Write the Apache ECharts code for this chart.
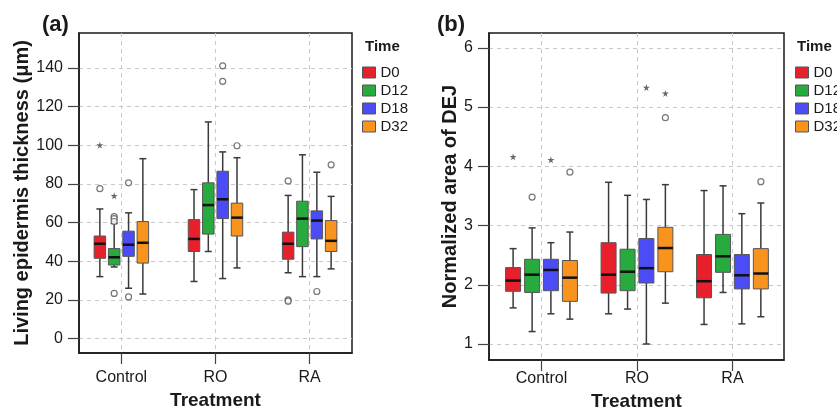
<!DOCTYPE html>
<html>
<head>
<meta charset="utf-8">
<script src="https://cdn.jsdelivr.net/npm/echarts@6/dist/echarts.min.js"></script>
<style>
  html, body { margin: 0; padding: 0; background: #fff; }
  #chart { width: 837px; height: 409px; }
</style>
</head>
<body>
<div id="chart"></div>
<script>
// Boxplots of skin measurements by treatment and time point
var treatments = ['Control', 'RO', 'RA'];
var times = ['D0', 'D12', 'D18', 'D32'];

// (a) living epidermis thickness: [min, q1, median, q3, max] for Control, RO, RA
var thickD0 = [[32, 41.5, 49, 53, 67], [29.5, 45, 51.5, 61.5, 77], [34, 41, 49, 55, 74]];
var thickD12 = [[37, 38, 42, 46.5, 59.5], [45, 54, 69, 80.5, 112], [32, 47.5, 62, 71, 95]];
var thickD18 = [[26, 42.5, 48.5, 55.5, 65], [31, 62, 72, 86.5, 96.5], [32, 51.5, 61, 66, 86]];
var thickD32 = [[23, 39, 49.5, 60.5, 93], [36.5, 53, 62.5, 70, 93.5], [36, 45, 50.5, 61, 73.5]];
// outliers [treatment index, value]; circles and extreme (star) points
var thickCircD0 = [[0, 77.5], [2, 81.5], [2, 20], [2, 19.3]];
var thickCircD12 = [[0, 63], [0, 62], [0, 60.5], [0, 23.3]];
var thickCircD18 = [[0, 80.5], [0, 21.5], [1, 141], [1, 133], [2, 24.3]];
var thickCircD32 = [[1, 99.7], [2, 89.8]];
var thickStarD0 = [[0, 100]];
var thickStarD12 = [[0, 73.8]];
var thickStarD18 = [];
var thickStarD32 = [];

// (b) normalized area of DEJ
var dejD0 = [[1.61, 1.89, 2.07, 2.29, 2.61], [1.51, 1.86, 2.17, 2.71, 3.73], [1.33, 1.78, 2.06, 2.51, 3.59]];
var dejD12 = [[1.21, 1.87, 2.17, 2.43, 2.96], [1.59, 1.9, 2.22, 2.6, 3.51], [1.87, 2.21, 2.48, 2.85, 3.67]];
var dejD18 = [[1.51, 1.9, 2.25, 2.43, 2.71], [1.0, 2.03, 2.28, 2.78, 3.44], [1.34, 1.93, 2.16, 2.51, 3.2]];
var dejD32 = [[1.42, 1.72, 2.12, 2.41, 2.89], [1.69, 2.22, 2.62, 2.97, 3.69], [1.46, 1.93, 2.19, 2.61, 3.38]];
var dejCircD0 = [];
var dejCircD12 = [[0, 3.48]];
var dejCircD18 = [];
var dejCircD32 = [[0, 3.9], [1, 4.82], [2, 3.74]];
var dejStarD0 = [[0, 4.16]];
var dejStarD12 = [];
var dejStarD18 = [[0, 4.11], [1, 5.33]];
var dejStarD32 = [[1, 5.23]];

var thickTicks = [0, 20, 40, 60, 80, 100, 120, 140];
var dejTicks = [1, 2, 3, 4, 5, 6];

var palette = ['#e8202c', '#27ab3e', '#4c4cf6', '#f8941d'];
var ink = '#1a1a1a';
var gridCol = '#c8c8c8';
var font = '"Liberation Sans", Arial, sans-serif';
var starPath = 'path://M50,0 L61,35 L98,35 L68,57 L79,91 L50,70 L21,91 L32,57 L2,35 L39,35 Z';

function boxRender(offset, boxW, capW) {
  return function(params, api) {
    var x = api.value(0);
    var pMin = api.coord([x, api.value(1)]);
    var pQ1 = api.coord([x, api.value(2)]);
    var pMed = api.coord([x, api.value(3)]);
    var pQ3 = api.coord([x, api.value(4)]);
    var pMax = api.coord([x, api.value(5)]);
    var cx = pMin[0] + offset;
    var hb = boxW / 2, hc = capW / 2;
    var wStyle = { stroke: '#3a3a3a', lineWidth: 1.5 };
    return {
      type: 'group',
      children: [
        { type: 'line', shape: { x1: cx, y1: pMax[1], x2: cx, y2: pQ3[1] }, style: wStyle },
        { type: 'line', shape: { x1: cx, y1: pQ1[1], x2: cx, y2: pMin[1] }, style: wStyle },
        { type: 'line', shape: { x1: cx - hc, y1: pMax[1], x2: cx + hc, y2: pMax[1] }, style: wStyle },
        { type: 'line', shape: { x1: cx - hc, y1: pMin[1], x2: cx + hc, y2: pMin[1] }, style: wStyle },
        { type: 'rect', shape: { x: cx - hb, y: pQ3[1], width: boxW, height: pQ1[1] - pQ3[1] },
          style: { fill: api.visual('color'), stroke: '#555', lineWidth: 1 } },
        { type: 'line', shape: { x1: cx - hb, y1: pMed[1], x2: cx + hb, y2: pMed[1] },
          style: { stroke: '#111', lineWidth: 2.5 } }
      ]
    };
  };
}

function addPanel(series, idx, boxes, circs, stars, offsets, boxW) {
  times.forEach(function(t, k) {
    series.push({
      name: t,
      type: 'custom',
      xAxisIndex: idx,
      yAxisIndex: idx,
      renderItem: boxRender(offsets[k], boxW, 7),
      itemStyle: { color: palette[k] },
      encode: { x: 0, y: [1, 2, 3, 4, 5] },
      data: boxes[k].map(function(b, i) { return [i].concat(b); }),
      z: 3
    });
    series.push({
      name: 'out-' + t,
      type: 'scatter',
      xAxisIndex: idx,
      yAxisIndex: idx,
      symbol: 'circle',
      symbolSize: 6,
      symbolOffset: [offsets[k], 0],
      itemStyle: { color: '#fff', borderColor: '#555', borderWidth: 1.2 },
      data: circs[k],
      z: 4
    });
    series.push({
      name: 'ext-' + t,
      type: 'scatter',
      xAxisIndex: idx,
      yAxisIndex: idx,
      symbol: starPath,
      symbolSize: 7,
      symbolOffset: [offsets[k], 0],
      itemStyle: { color: '#444' },
      data: stars[k],
      z: 4
    });
  });
}

function xAxisOf(idx, min, max, margin) {
  return {
    type: 'value', gridIndex: idx, min: min, max: max,
    name: 'Treatment', nameLocation: 'middle', nameGap: margin + 21,
    nameTextStyle: { fontFamily: font, fontSize: 19, fontWeight: 'bold', color: ink },
    axisLine: { show: true, onZero: false, lineStyle: { color: ink, width: 1.5 } },
    axisTick: { show: true, length: 11, customValues: [0, 1, 2], lineStyle: { color: '#444', width: 1.2 } },
    axisLabel: {
      customValues: [0, 1, 2], margin: margin, fontFamily: font, fontSize: 16, color: ink,
      formatter: function(v) { return treatments[Math.round(v)]; }
    },
    splitLine: { show: true, lineStyle: { color: gridCol, type: [4, 4], width: 1 } }
  };
}

function yAxisOf(idx, min, max, ticks, name, gap) {
  return {
    type: 'value', gridIndex: idx, min: min, max: max,
    name: name, nameLocation: 'middle', nameGap: gap,
    nameTextStyle: { fontFamily: font, fontSize: 20, fontWeight: 'bold', color: ink },
    axisLine: { show: true, onZero: false, lineStyle: { color: ink, width: 1.5 } },
    axisTick: { show: true, length: 11, customValues: ticks, lineStyle: { color: '#444', width: 1.2 } },
    axisLabel: { customValues: ticks, margin: 16, fontFamily: font, fontSize: 16, color: ink },
    splitLine: { show: true, lineStyle: { color: gridCol, type: [4, 4], width: 1 } }
  };
}

function legendAt(left) {
  return {
    left: left, top: 65, orient: 'vertical', data: times, icon: 'rect',
    itemWidth: 13, itemHeight: 11, itemGap: 3, padding: 0, selectedMode: false,
    itemStyle: { borderColor: '#555', borderWidth: 1 },
    textStyle: { fontFamily: font, fontSize: 15, lineHeight: 15, color: ink }
  };
}

function titleAt(text, left, top, size) {
  return { text: text, left: left, top: top, padding: 0,
    textStyle: { fontFamily: font, fontSize: size, fontWeight: 'bold', color: ink } };
}

var series = [];
addPanel(series, 0, [thickD0, thickD12, thickD18, thickD32],
  [thickCircD0, thickCircD12, thickCircD18, thickCircD32],
  [thickStarD0, thickStarD12, thickStarD18, thickStarD32],
  [-21.5, -7.2, 7.2, 21.5], 11.5);
addPanel(series, 1, [dejD0, dejD12, dejD18, dejD32],
  [dejCircD0, dejCircD12, dejCircD18, dejCircD32],
  [dejStarD0, dejStarD12, dejStarD18, dejStarD32],
  [-28.4, -9.4, 9.4, 28.4], 15);

var chart = echarts.init(document.getElementById('chart'), null, { renderer: 'canvas' });
chart.setOption({
  animation: false,
  textStyle: { fontFamily: font },
  title: [
    titleAt('(a)', 42, 14, 22),
    titleAt('(b)', 437, 14, 22),
    titleAt('Time', 365, 39, 15),
    titleAt('Time', 797, 39, 15)
  ],
  legend: [legendAt(362), legendAt(795)],
  grid: [
    { left: 79, top: 33, width: 273, height: 320, show: true, borderColor: ink, borderWidth: 1.5,
      containLabel: false, outerBoundsMode: 'none' },
    { left: 489, top: 33, width: 295, height: 327, show: true, borderColor: ink, borderWidth: 1.5,
      containLabel: false, outerBoundsMode: 'none' }
  ],
  xAxis: [xAxisOf(0, -0.45, 2.45, 17), xAxisOf(1, -0.55, 2.54, 11)],
  yAxis: [
    yAxisOf(0, -7.5, 158, thickTicks, 'Living epidermis thickness (\u03bcm)', 44),
    yAxisOf(1, 0.73, 6.25, dejTicks, 'Normalized area of DEJ', 23)
  ],
  series: series
});
</script>
</body>
</html>
